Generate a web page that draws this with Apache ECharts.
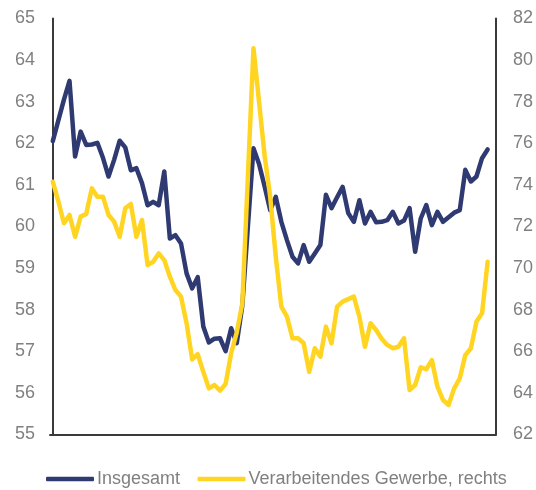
<!DOCTYPE html>
<html>
<head>
<meta charset="utf-8">
<script src="https://cdn.jsdelivr.net/npm/echarts@6/dist/echarts.min.js"></script>
<style>
  html, body { margin: 0; padding: 0; background: #fff; }
  #chart { width: 536px; height: 490px; }
</style>
</head>
<body>
<div id="chart"></div>
<script>
// Werte (monatlich, ohne Datumsachse)
const insgesamt = [
  62.05, 62.55, 63.05, 63.5, 61.68, 62.28, 61.96, 61.97, 62.01, 61.65,
  61.2, 61.6, 62.06, 61.9, 61.35, 61.4, 61.04, 60.51, 60.59, 60.51,
  61.32, 59.71, 59.79, 59.59, 58.87, 58.51, 58.78, 57.59, 57.21, 57.3,
  57.31, 57.0, 57.55, 57.19, 58.1, 60.0, 61.88, 61.5, 60.96, 60.39,
  60.71, 60.11, 59.67, 59.27, 59.11, 59.55, 59.15, 59.35, 59.55, 60.76,
  60.44, 60.7, 60.95, 60.32, 60.11, 60.63, 60.07, 60.35, 60.1, 60.11,
  60.15, 60.35, 60.07, 60.14, 60.44, 59.39, 60.19, 60.51, 60.03, 60.35,
  60.11, 60.22, 60.33, 60.39, 61.36, 61.08, 61.2, 61.64, 61.85
];

const verarbeitendesGewerbe = [
  74.15, 73.2, 72.15, 72.55, 71.5, 72.47, 72.6, 73.83, 73.43, 73.43,
  72.55, 72.23, 71.5, 72.87, 73.08, 71.5, 72.31, 70.14, 70.3, 70.7,
  70.38, 69.58, 68.94, 68.62, 67.34, 65.6, 65.85, 65.0, 64.21, 64.37,
  64.1, 64.42, 65.9, 66.9, 68.3, 74.4, 80.57, 78.0, 75.4, 73.43,
  70.54, 68.14, 67.66, 66.62, 66.62, 66.38, 65.01, 66.14, 65.73, 67.18,
  66.38, 68.14, 68.38, 68.5, 68.62, 67.66, 66.21, 67.34, 67.02, 66.6,
  66.3, 66.14, 66.21, 66.62, 64.13, 64.37, 65.22, 65.13, 65.57, 64.29,
  63.65, 63.41, 64.21, 64.69, 65.81, 66.14, 67.42, 67.82, 70.3
];

const seriesNames = ['Insgesamt', 'Verarbeitendes Gewerbe, rechts'];

const navy = '#2f3a72';
const gelb = '#ffd522';
const grau = '#808080';
const achse = '#3a3a3a';
const schrift = "'Liberation Sans', Arial, sans-serif";

function toPairs(arr) {
  return arr.map((v, i) => [i, v]);
}

const chart = echarts.init(document.getElementById('chart'));

const option = {
  animation: false,
  backgroundColor: '#fff',
  grid: { left: 50, right: 39, top: 18.5, bottom: 55.7 },
  legend: {
    left: 41,
    top: 465,
    itemWidth: 48,
    itemHeight: 4.5,
    itemGap: 17.5,
    icon: 'roundRect',
    textStyle: { color: grau, fontSize: 18, fontFamily: schrift, padding: [0, 0, 0, -2] },
    data: seriesNames
  },
  xAxis: {
    type: 'value',
    min: -0.5,
    max: 79.5,
    axisLine: { show: true, onZero: false, lineStyle: { color: achse, width: 2 } },
    axisTick: { show: false },
    axisLabel: { show: false },
    splitLine: { show: false }
  },
  yAxis: [
    {
      type: 'value',
      min: 55,
      max: 65,
      interval: 1,
      axisLine: { show: true, lineStyle: { color: achse, width: 2 } },
      axisTick: { show: false },
      splitLine: { show: false },
      axisLabel: { color: grau, fontSize: 18, fontFamily: schrift, margin: 15 }
    },
    {
      type: 'value',
      min: 62,
      max: 82,
      interval: 2,
      position: 'right',
      axisLine: { show: true, lineStyle: { color: achse, width: 2 } },
      axisTick: { show: false },
      splitLine: { show: false },
      axisLabel: { color: grau, fontSize: 18, fontFamily: schrift, margin: 17 }
    }
  ],
  series: [
    {
      name: seriesNames[0],
      type: 'line',
      yAxisIndex: 0,
      showSymbol: false,
      data: toPairs(insgesamt),
      itemStyle: { color: navy },
      lineStyle: { color: navy, width: 4.5, cap: 'round', join: 'round' }
    },
    {
      name: seriesNames[1],
      type: 'line',
      yAxisIndex: 1,
      showSymbol: false,
      data: toPairs(verarbeitendesGewerbe),
      itemStyle: { color: gelb },
      lineStyle: { color: gelb, width: 4.5, cap: 'round', join: 'round' }
    }
  ]
};

chart.setOption(option);
</script>
</body>
</html>
